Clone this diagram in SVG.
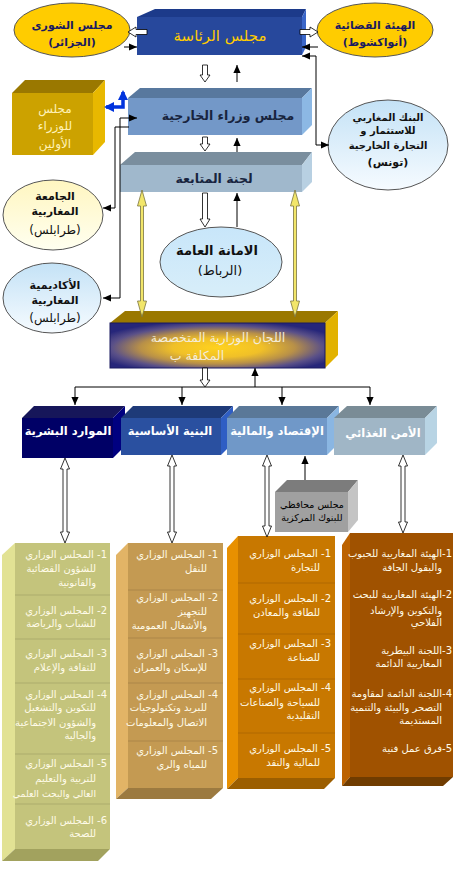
<svg xmlns="http://www.w3.org/2000/svg" width="455" height="870" viewBox="0 0 455 870">
<style>
text{font-family:"DejaVu Sans",sans-serif;direction:rtl}
.e{font-size:11px;font-weight:bold;fill:#1a1a60;text-anchor:middle}
.d{font-size:11px;font-weight:bold;fill:#111;text-anchor:middle}
.c{font-size:10px;fill:#fffbe8;text-anchor:start}
.w{font-size:11.5px;font-weight:bold;fill:#fff;text-anchor:middle}
.ln{fill:none;stroke:#000;stroke-width:1}
.ho{fill:#fff;stroke:#000;stroke-width:0.8}
.ya{fill:#f2e66a;stroke:#7a7440;stroke-width:0.8}
.sep{stroke:#000;stroke-opacity:0.12;stroke-width:1}
.el{stroke:#555;stroke-width:1}
</style>
<defs>
<marker id="ah" viewBox="0 0 10 10" refX="10" refY="5" markerUnits="userSpaceOnUse" markerWidth="8" markerHeight="8" orient="auto"><path d="M0,0.5 L10,5 L0,9.5 z" fill="#000"/></marker>
<marker id="bh" viewBox="0 0 10 10" refX="8" refY="5" markerUnits="userSpaceOnUse" markerWidth="10" markerHeight="10" orient="auto-start-reverse"><path d="M0,0 L10,5 L0,10 z" fill="#0033dd"/></marker>
<linearGradient id="gy" x1="0" y1="0" x2="0" y2="1"><stop offset="0" stop-color="#fff6c0"/><stop offset="1" stop-color="#fffff0"/></linearGradient>
<linearGradient id="gb" x1="0" y1="0" x2="0" y2="1"><stop offset="0" stop-color="#c4e2f6"/><stop offset="1" stop-color="#f6fbff"/></linearGradient>
<linearGradient id="gb2" x1="0" y1="0" x2="0" y2="1"><stop offset="0" stop-color="#c8e6fa"/><stop offset="1" stop-color="#d8eef9"/></linearGradient>
<radialGradient id="gs" cx="0.5" cy="0.55" r="0.6"><stop offset="0" stop-color="#ffd21e"/><stop offset="0.35" stop-color="#f0c028"/><stop offset="0.6" stop-color="#b89048"/><stop offset="0.82" stop-color="#5a5088"/><stop offset="1" stop-color="#26267a"/></radialGradient>
</defs>

<g id="shura">
<ellipse class="el" cx="72" cy="30" rx="58" ry="27" fill="#ffcc00"/>
<text class="e" x="72" y="29">مجلس الشورى</text>
<text class="e" x="72" y="46">(الجزائر)</text>
</g>
<g id="qadaiya">
<ellipse class="el" cx="375" cy="30" rx="58" ry="27" fill="#ffcc00"/>
<text class="e" x="375" y="29">الهيئة القضائية</text>
<text class="e" x="375" y="46">(أنواكشوط)</text>
</g>
<g id="presidency">
<polygon points="137,17 155,9 306,9 302,17" fill="#1c3a8a"/>
<polygon points="302,17 306,9 306,47 302,55" fill="#3a66c8"/>
<rect x="137" y="17" width="165" height="38" fill="#27489c"/>
<text x="220" y="41" style="font-size:15px;fill:#ffcc00;text-anchor:middle">مجلس الرئاسة</text>
</g>
<g id="primeministers">
<polygon points="12,93 25,80 105,80 93,93" fill="#9a7800"/>
<polygon points="93,93 105,80 105,142 93,155" fill="#e8b800"/>
<rect x="12" y="93" width="81" height="62" fill="#cca200"/>
<text x="55" y="113" style="font-size:12px;fill:#fff2b8;text-anchor:middle">مجلس</text>
<text x="55" y="130" style="font-size:12px;fill:#fff2b8;text-anchor:middle;letter-spacing:1px">للوزراء</text>
<text x="55" y="148" style="font-size:12px;fill:#fff2b8;text-anchor:middle">الأولين</text>
</g>
<g id="foreignministers">
<polygon points="128,98 140,88 312,88 302,98" fill="#58789e"/>
<polygon points="302,98 312,88 312,125 302,135" fill="#8cb8e4"/>
<rect x="128" y="98" width="174" height="37" fill="#7398c8"/>
<text x="228" y="120" style="font-size:12.5px;font-weight:bold;fill:#18243e;text-anchor:middle">مجلس وزراء الخارجية</text>
</g>
<g id="bank">
<ellipse class="el" cx="388" cy="145" rx="60" ry="45" fill="url(#gb)"/>
<text class="d" x="388" y="121" style="font-size:10px">البنك المغاربي</text>
<text class="d" x="388" y="134" style="font-size:10px">للاستثمار و</text>
<text class="d" x="388" y="149" style="font-size:10px">التجارة الخارجية</text>
<text class="d" x="388" y="166" style="font-size:11px">(تونس)</text>
</g>
<g id="followup">
<polygon points="120,165 135,152 312,152 302,165" fill="#7a8e9e"/>
<polygon points="302,165 312,152 312,182 302,192" fill="#b8d0e2"/>
<rect x="120" y="165" width="182" height="27" fill="#a0b8cc"/>
<text x="214" y="183" style="font-size:12.5px;font-weight:bold;fill:#18243e;text-anchor:middle">لجنة المتابعة</text>
</g>
<g id="jamia">
<ellipse class="el" cx="53" cy="215" rx="50" ry="35" fill="url(#gy)"/>
<text class="d" x="55" y="200">الجامعة</text>
<text class="d" x="55" y="215">المغاربية</text>
<text class="d" x="55" y="234" style="font-weight:normal;font-size:12px">(طرابلس)</text>
</g>
<g id="academia">
<ellipse class="el" cx="52" cy="298" rx="49" ry="35" fill="url(#gb)"/>
<text class="d" x="55" y="289">الأكاديمية</text>
<text class="d" x="55" y="304">المغاربية</text>
<text class="d" x="55" y="322" style="font-weight:normal;font-size:12px">(طرابلس)</text>
</g>
<g id="secretariat">
<ellipse class="el" cx="221" cy="262" rx="61" ry="35" fill="url(#gb2)"/>
<text class="d" x="217" y="255" style="font-size:13px">الامانة العامة</text>
<text class="d" x="220" y="275" style="font-size:13px;font-weight:normal">(الرباط)</text>
</g>
<g id="specialized">
<polygon points="110,323 125,311 338,311 325,323" fill="#9a7800"/>
<polygon points="325,323 338,311 338,355 325,368" fill="#e2b200"/>
<rect x="110" y="323" width="215" height="45" fill="url(#gs)" stroke="#1a1a60" stroke-width="1"/>
<text x="218" y="342" style="font-size:12.5px;fill:#f4ecd8;text-anchor:middle">اللجان الوزارية المتخصصة</text>
<text x="197" y="360" style="font-size:12.5px;fill:#f4ecd8;text-anchor:middle">المكلفة ب</text>
</g>
<g id="human">
<polygon points="22,418 34,406 125,406 113,418" fill="#16165a"/>
<polygon points="113,418 125,406 125,446 113,458" fill="#000080"/>
<rect x="22" y="418" width="91" height="40" fill="#000066"/>
<text class="w" x="68" y="435">الموارد البشرية</text>
</g>
<g id="infrastructure">
<polygon points="121,418 133,406 233,406 221,418" fill="#1e3a78"/>
<polygon points="221,418 233,406 233,443 221,455" fill="#2f5ec4"/>
<rect x="121" y="418" width="100" height="37" fill="#2a50a0"/>
<text class="w" x="170" y="435">البنية الأساسية</text>
</g>
<g id="economy">
<polygon points="227,418 239,406 339,406 327,418" fill="#5a7898"/>
<polygon points="327,418 339,406 339,443 327,455" fill="#8ab6e2"/>
<rect x="227" y="418" width="100" height="37" fill="#7098c8"/>
<text class="w" x="277" y="435">الإقتصاد والمالية</text>
</g>
<g id="food">
<polygon points="334,418 347,406 437,406 425,418" fill="#7a8c96"/>
<polygon points="425,418 437,406 437,443 425,455" fill="#b8d4e4"/>
<rect x="334" y="418" width="91" height="37" fill="#a0b6c6"/>
<text class="w" x="383" y="437">الأمن الغذائي</text>
</g>
<g id="governors">
<polygon points="275,492 287,480 358,480 348,492" fill="#7c7c7c"/>
<polygon points="348,492 358,480 358,520 348,532" fill="#c4c4c4"/>
<rect x="275" y="492" width="73" height="40" fill="#a0a0a0"/>
<text x="312" y="508" style="font-size:9.5px;fill:#000;text-anchor:middle">مجلس محافظي</text>
<text x="312" y="521" style="font-size:9.5px;fill:#000;text-anchor:middle">للبنوك المركزية</text>
</g>

<g id="col-human">
<polygon points="15,543 15,849 2,861 2,555" fill="#e2e294"/>
<polygon points="2,861 15,849 110,849 98,861" fill="#a2a25e"/>
<rect x="15" y="543" width="95" height="306" fill="#c4c47c"/>
<path class="sep" d="M15,595H110M15,639H110M15,683H110M15,754H110M15,804H110"/>
<text class="c" x="107" y="558">1- المجلس الوزاري</text>
<text class="c" x="96" y="572">للشؤون القضائية</text>
<text class="c" x="96" y="586">والقانونية</text>
<text class="c" x="107" y="614">2- المجلس الوزاري</text>
<text class="c" x="96" y="627">للشباب والرياضة</text>
<text class="c" x="107" y="657">3- المجلس الوزاري</text>
<text class="c" x="96" y="671">للثقافة والإعلام</text>
<text class="c" x="107" y="698">4- المجلس الوزاري</text>
<text class="c" x="96" y="711">للتكوين والتشغيل</text>
<text class="c" x="96" y="726">والشؤون الاجتماعية</text>
<text class="c" x="96" y="739">والجالية</text>
<text class="c" x="107" y="767">5- المجلس الوزاري</text>
<text class="c" x="96" y="782">للتربية والتعليم</text>
<text class="c" x="96" y="797" style="font-size:9.3px">العالي والبحث العلمي</text>
<text class="c" x="107" y="824">6- المجلس الوزاري</text>
<text class="c" x="96" y="837">للصحة</text>
</g>
<g id="col-infra">
<polygon points="128,543 128,788 116,799 116,555" fill="#e2b466"/>
<polygon points="116,799 128,788 223,788 211,799" fill="#9c7a40"/>
<rect x="128" y="543" width="95" height="245" fill="#c49a52"/>
<path class="sep" d="M128,590H223M128,638H223M128,683H223M128,741H223"/>
<text class="c" x="218" y="558">1- المجلس الوزاري</text>
<text class="c" x="207" y="572">للنقل</text>
<text class="c" x="218" y="601">2- المجلس الوزاري</text>
<text class="c" x="207" y="615">للتجهيز</text>
<text class="c" x="207" y="629">والأشغال العمومية</text>
<text class="c" x="218" y="657">3- المجلس الوزاري</text>
<text class="c" x="207" y="671">للإسكان والعمران</text>
<text class="c" x="218" y="698">4- المجلس الوزاري</text>
<text class="c" x="207" y="711">للبريد وتكنولوجيات</text>
<text class="c" x="207" y="726">الاتصال والمعلومات</text>
<text class="c" x="218" y="754">5- المجلس الوزاري</text>
<text class="c" x="207" y="768">للمياه والري</text>
</g>
<g id="col-economy">
<polygon points="238,536 238,778 227,789 227,548" fill="#e89000"/>
<polygon points="227,789 238,778 335,778 324,789" fill="#9c5e00"/>
<rect x="238" y="536" width="97" height="242" fill="#c87800"/>
<path class="sep" d="M238,583H335M238,634H335M238,679H335M238,733H335"/>
<text class="c" x="331" y="557">1- المجلس الوزاري</text>
<text class="c" x="320" y="571">للتجارة</text>
<text class="c" x="331" y="602">2- المجلس الوزاري</text>
<text class="c" x="320" y="616">للطاقة والمعادن</text>
<text class="c" x="331" y="647">3- المجلس الوزاري</text>
<text class="c" x="320" y="661">للصناعة</text>
<text class="c" x="331" y="691">4- المجلس الوزاري</text>
<text class="c" x="320" y="706">للسياحة والصناعات</text>
<text class="c" x="320" y="719">التقليدية</text>
<text class="c" x="331" y="752">5- المجلس الوزاري</text>
<text class="c" x="320" y="766">للمالية والنقد</text>
</g>
<g id="col-food">
<polygon points="350,533 350,777 342,786 342,545" fill="#bc6200"/>
<polygon points="342,786 350,777 453,777 443,786" fill="#703c00"/>
<rect x="350" y="533" width="103" height="244" fill="#a05200"/>
<text class="c" x="452" y="557">1-الهيئة المغاربية للحبوب</text>
<text class="c" x="442" y="571">والبقول الجافة</text>
<text class="c" x="452" y="598">2-الهيئة المغاربية للبحث</text>
<text class="c" x="442" y="614">والتكوين والإرشاد</text>
<text class="c" x="442" y="626">الفلاحي</text>
<text class="c" x="452" y="654">3-اللجنة البيطرية</text>
<text class="c" x="442" y="667">المغاربية الدائمة</text>
<text class="c" x="452" y="697">4-اللجنة الدائمة لمقاومة</text>
<text class="c" x="442" y="711">التصحر والبيئة والتنمية</text>
<text class="c" x="442" y="724">المستديمة</text>
<text class="c" x="452" y="752">5-فرق عمل فنية</text>
</g>

<g id="connectors">
<path class="ln" d="M124,47H137" marker-end="url(#ah)"/>
<path class="ln" d="M318,47H302" marker-end="url(#ah)"/>
<path class="ln" d="M316,56H302" marker-end="url(#ah)"/>
<path class="ln" d="M316,56V145H329" marker-end="url(#ah)"/>
<polygon class="ho" points="147,29.5 136,29.5 136,27 128,32 136,37 136,34.5 147,34.5"/>
<polygon class="ho" points="300,29.5 310,29.5 310,27 318,32 310,37 310,34.5 300,34.5"/>
<polygon class="ho" points="202.5,65 207.5,65 207.5,75 210,75 205,82 200,75 202.5,75"/>
<path class="ln" d="M237,82V65" marker-end="url(#ah)"/>
<path d="M106,107H123V92" fill="none" stroke="#0033dd" stroke-width="3.5" marker-start="url(#bh)" marker-end="url(#bh)"/>
<path class="ln" d="M120,118H137" marker-end="url(#ah)"/>
<path class="ln" d="M120,118V298H103" marker-end="url(#ah)"/>
<path class="ln" d="M129,127H115V208H103" marker-end="url(#ah)"/>
<polygon class="ho" points="202.5,137 207.5,137 207.5,144 210,144 205,151 200,144 202.5,144"/>
<path class="ln" d="M237,152V138" marker-end="url(#ah)"/>
<polygon class="ho" points="202.5,193 207.5,193 207.5,219 210,219 205,227 200,219 202.5,219"/>
<path class="ln" d="M237,227V193" marker-end="url(#ah)"/>
<polygon class="ya" points="142,190 146.5,206 143.5,206 143.5,301 146.5,301 142,317 137.5,301 140.5,301 140.5,206 137.5,206"/>
<polygon class="ya" points="295,190 299.5,206 296.5,206 296.5,301 299.5,301 295,317 290.5,301 293.5,301 293.5,206 290.5,206"/>
<path class="ln" d="M75,387H370"/>
<path class="ln" d="M75,387V405" marker-end="url(#ah)"/>
<path class="ln" d="M182,387V405" marker-end="url(#ah)"/>
<path class="ln" d="M282,387V405" marker-end="url(#ah)"/>
<path class="ln" d="M370,387V405" marker-end="url(#ah)"/>
<polygon class="ho" points="202.5,368 207.5,368 207.5,380 210,380 205,387 200,380 202.5,380"/>
<path class="ln" d="M255,387V368" marker-end="url(#ah)"/>
<path class="ln" d="M305,480V456" marker-end="url(#ah)"/>
<polygon class="ho" points="65,458 69.5,469 67,469 67,532 69.5,532 65,543 60.5,532 63,532 63,469 60.5,469"/>
<polygon class="ho" points="172,455 176.5,466 174,466 174,532 176.5,532 172,543 167.5,532 170,532 170,466 167.5,466"/>
<polygon class="ho" points="267,455 271.5,466 269,466 269,526 271.5,526 267,537 262.5,526 265,526 265,466 262.5,466"/>
<polygon class="ho" points="403,455 407.5,466 405,466 405,522 407.5,522 403,533 398.5,522 401,522 401,466 398.5,466"/>
</g>
</svg>
